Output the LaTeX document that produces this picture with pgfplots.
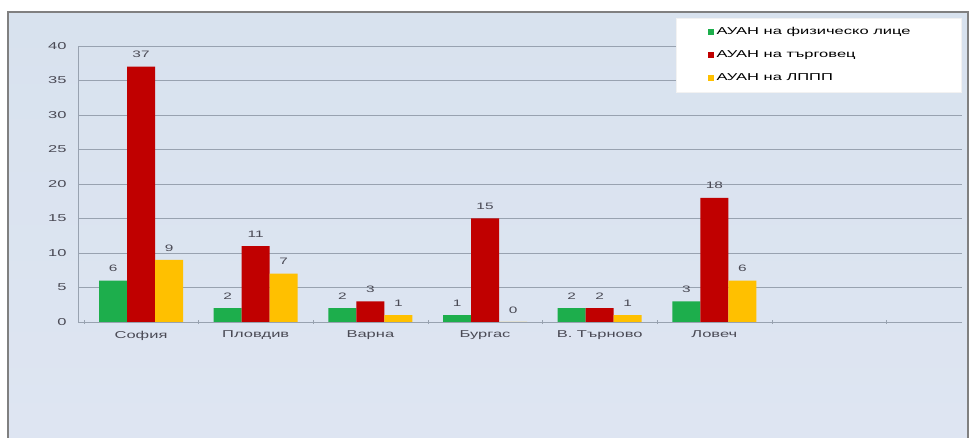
\documentclass[border=0pt]{standalone}
\usepackage{pgfplots}
\pgfplotsset{compat=1.18}
\usepackage{fontspec}
\setmainfont[FakeStretch=1.65]{Liberation Sans}
\definecolor{cgreen}{HTML}{1DAE4C}
\definecolor{cred}{HTML}{C00000}
\definecolor{cyellow}{HTML}{FFC000}
\definecolor{txt}{HTML}{4A4A55}
\definecolor{gridc}{HTML}{98A2B0}
\definecolor{bgtop}{HTML}{D8E2EE}
\definecolor{bgmid}{HTML}{BCCAE3}
\definecolor{bgbot}{HTML}{DEE5F2}
\begin{document}
\begin{tikzpicture}
  % frame and gradient background (1px = 0.75pt)
  \useasboundingbox (0,0) rectangle (732pt,328.5pt);
  \fill[white] (0,0) rectangle (732pt,328.5pt);
  \shade[top color=bgtop, middle color=bgmid, bottom color=bgbot]
    (6pt,0) rectangle (726pt,319.5pt);
  \draw[gray, line width=0.8pt] (6pt,0) -- (6pt,319.5pt) -- (726pt,319.5pt) -- (726pt,0);
  \begin{axis}[
      at={(58.5pt,87pt)}, anchor=south west,
      scale only axis, width=663pt, height=207pt,
      ybar=0pt, bar width=21pt,
      xmin=-0.55, xmax=7.16, ymin=0, ymax=40,
      ytick={0,5,...,40},
      xtick={0,...,5},
      xticklabels={София,Пловдив,Варна,Бургас,В. Търново,Ловеч},
      minor xtick={-0.5,0.5,...,6.5},
      major x tick style={draw=none},
      minor x tick style={draw=gridc},
      minor tick length=3pt,
      tick align=outside,
      axis x line=bottom, axis y line=left,
      axis line style={draw=gridc, -},
      y tick style={draw=none},
      ymajorgrids, grid style={gridc, line width=0.5pt},
      tick label style={font=\fontsize{7.5}{8}\selectfont, text=txt},
      /pgf/number format/assume math mode=true,
      xticklabel style={yshift=-1pt},
      yticklabel style={xshift=-3pt},
      nodes near coords,
      every node near coord/.append style={font=\fontsize{7}{7}\selectfont, text=txt, yshift=3pt},
      legend style={at={(rel axis cs:0.676,1.101)}, anchor=north west,
        fill=white, draw=white!90!gray, font=\fontsize{7.5}{8}\selectfont,
        inner xsep=24pt, inner ysep=5pt, row sep=6.5pt,
        cells={anchor=west}},
      legend image code/.code={\fill[#1] (0pt,-2pt) rectangle (4.5pt,2.5pt);},
    ]
    \addplot[fill=cgreen, draw=none] coordinates {(0,6) (1,2) (2,2) (3,1) (4,2) (5,3)};
    \addplot[fill=cred, draw=none] coordinates {(0,37) (1,11) (2,3) (3,15) (4,2) (5,18)};
    \addplot[fill=cyellow, draw=none] coordinates {(0,9) (1,7) (2,1) (3,0) (4,1) (5,6)};
    \legend{АУАН на физическо лице\rule{12pt}{0pt}, АУАН на търговец, АУАН на ЛППП}
  \end{axis}
\end{tikzpicture}
\end{document}
